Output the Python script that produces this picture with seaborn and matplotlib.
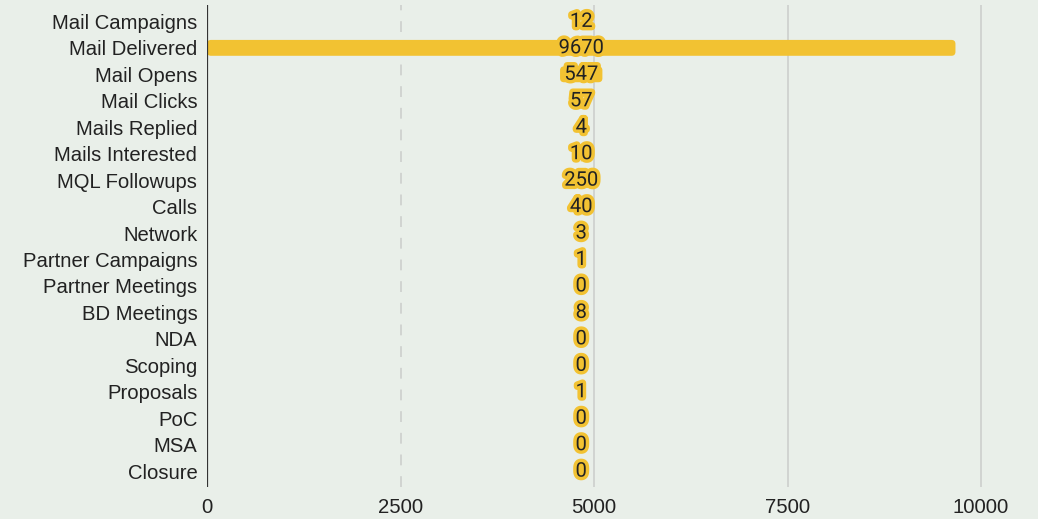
import matplotlib
matplotlib.use("Agg")
import matplotlib.pyplot as plt
import matplotlib.patheffects as pe
from matplotlib.patches import FancyBboxPatch
import seaborn as sns
import pandas as pd

categories = ["Mail Campaigns", "Mail Delivered", "Mail Opens", "Mail Clicks",
              "Mails Replied", "Mails Interested", "MQL Followups", "Calls",
              "Network", "Partner Campaigns", "Partner Meetings", "BD Meetings",
              "NDA", "Scoping", "Proposals", "PoC", "MSA", "Closure"]
values = [12, 9670, 547, 57, 4, 10, 250, 40, 3, 1, 0, 8, 0, 0, 1, 0, 0, 0]
x_ticks = [0, 2500, 5000, 7500, 10000]

BG = "#e9efe9"
BAR = "#f2c232"

df = pd.DataFrame({"category": categories, "value": values})

sns.set_theme(style="white")
plt.rcParams["font.family"] = ["Liberation Sans", "DejaVu Sans"]

fig = plt.figure(figsize=(10.38, 5.19), dpi=100, facecolor=BG)
ax = fig.add_axes([207 / 1038, 1 - 487 / 519, 1 - 207 / 1038, 482 / 519])
ax.set_facecolor(BG)

sns.barplot(data=df, y="category", x="value", orient="h", color=BAR,
            saturation=1, width=0.6, ax=ax, zorder=3)

xmax = 10000 * (1038 - 207) / (981 - 207)
ax.set_xlim(0, xmax)
ax.set_ylim(len(categories) - 0.4, -0.62)
px_x = xmax / (1038 - 207)
px_y = (len(categories) - 0.4 + 0.62) / 482
r = 4 * px_x

# funnel layout: centre every bar on the middle of the largest bar
cx = max(values) / 2
for p in list(ax.patches):
    w = p.get_width()
    y0, h = p.get_y(), p.get_height()
    x0 = cx - w / 2
    p.remove()
    if w <= 0:
        continue
    rs = min(r, w / 2)
    fb = FancyBboxPatch((x0, y0), w, h,
                        boxstyle=f"round,pad=0,rounding_size={rs}",
                        mutation_aspect=px_y / px_x,
                        facecolor=BAR, edgecolor="none", zorder=3)
    ax.add_patch(fb)

# gridlines
for t in x_ticks[1:]:
    ax.axvline(t, color="#cfd2cf", lw=1.3, zorder=1,
               ls=(0, (6, 6)) if t == 2500 else "-")
ax.axvline(0, color="#333333", lw=1.6, zorder=4)

# value labels centred on the bars
for i, v in enumerate(values):
    ax.text(cx, i, f"{v}", ha="center", va="center", fontsize=14.5,
            family=["Roboto", "DejaVu Sans"], color="#222222", zorder=5,
            path_effects=[pe.withStroke(linewidth=5, foreground=BAR)])

ax.set_xticks(x_ticks)
ax.set_xticklabels([str(t) for t in x_ticks])
ax.set_xlabel("")
ax.set_ylabel("")
ax.tick_params(axis="both", length=0, labelsize=14.6, colors="#222222")
ax.tick_params(axis="y", pad=7)
ax.tick_params(axis="x", pad=8)
for s in ax.spines.values():
    s.set_visible(False)

fig.savefig("out.png", dpi=100, facecolor=BG)
